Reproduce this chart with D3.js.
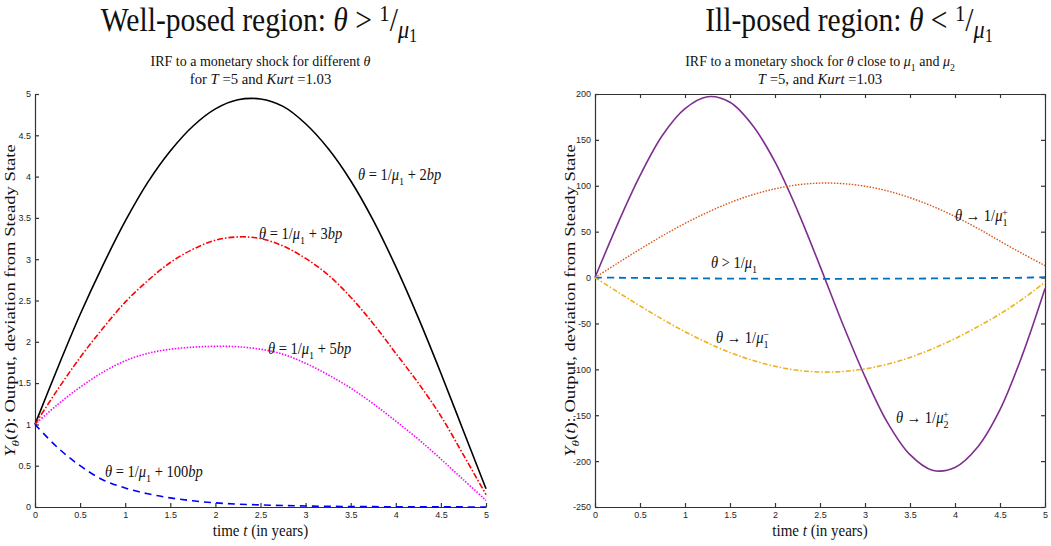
<!DOCTYPE html>
<html>
<head>
<meta charset="utf-8">
<script src="https://cdn.jsdelivr.net/npm/d3@7"></script>
<style>
  body { margin: 0; background: #fff; }
  text { font-family: "Liberation Serif", "DejaVu Serif", serif; fill: #111; }
  .tick text { font-family: "Liberation Sans", Arial, sans-serif; font-size: 9px; fill: #262626; }
  .axis path, .axis line { stroke: #333; }
</style>
</head>
<body>
<div id="container"></div>
<script>
/* DATA */
const tYears = [0, 0.25, 0.5, 0.75, 1, 1.25, 1.5, 1.75, 2, 2.25, 2.5, 2.75, 3, 3.25, 3.5, 3.75, 4, 4.25, 4.5, 4.75, 5];

// well-posed panel
const theta2bp   = [1.00, 1.68, 2.33, 2.92, 3.46, 3.93, 4.31, 4.61, 4.82, 4.93, 4.94, 4.85, 4.64, 4.34, 3.95, 3.47, 2.91, 2.29, 1.62, 0.92, 0.22];
const theta3bp   = [1.00, 1.42, 1.81, 2.16, 2.48, 2.74, 2.96, 3.12, 3.23, 3.27, 3.25, 3.16, 3.01, 2.81, 2.54, 2.22, 1.86, 1.50, 1.10, 0.63, 0.15];
const theta5bp   = [1.00, 1.24, 1.45, 1.63, 1.77, 1.86, 1.91, 1.935, 1.945, 1.94, 1.91, 1.85, 1.74, 1.60, 1.44, 1.25, 1.04, 0.82, 0.58, 0.33, 0.08];
const theta100bp = [1.00, 0.72, 0.50, 0.33, 0.23, 0.16, 0.11, 0.075, 0.05, 0.035, 0.025, 0.018, 0.012, 0.008, 0.006, 0.004, 0.003, 0.002, 0.001, 0.001, 0];

// ill-posed panel
const towardMu2Plus  = [0, 58, 111, 155, 184, 197, 191, 166, 126, 73, 12.5, -50, -108, -158, -193, -210, -207, -185, -144, -84, -12];
const towardMu1Plus  = [0, 15.6, 30.9, 45.5, 59.0, 71.1, 81.7, 90.2, 96.7, 101.0, 102.9, 102.4, 99.5, 94.4, 87.0, 77.7, 66.5, 53.7, 39.7, 26, 13];
const aboveMu1       = [0, -0.2, -0.4, -0.6, -0.8, -1.0, -1.1, -1.2, -1.3, -1.4, -1.4, -1.4, -1.3, -1.2, -1.1, -1.0, -0.8, -0.6, -0.4, -0.2, 0.5];
const towardMu1Minus = [0, -15.6, -30.9, -45.5, -59.0, -71.1, -81.7, -90.2, -96.7, -101.0, -102.9, -102.4, -99.5, -94.4, -87.0, -77.7, -66.5, -53.7, -39.7, -23.5, -5];

// ticks
const xTicks = [0, 0.5, 1, 1.5, 2, 2.5, 3, 3.5, 4, 4.5, 5];
const leftYTicks = [0, 0.5, 1, 1.5, 2, 2.5, 3, 3.5, 4, 4.5, 5];
const rightYTicks = [-250, -200, -150, -100, -50, 0, 50, 100, 150, 200];

/* CONSTANTS */
const width = 1051;
const height = 546;
const plotTop = 94, plotBottom = 507;

const svg = d3.select("#container")
  .append("svg")
  .attr("width", width)
  .attr("height", height);

svg.append("rect").attr("width", width).attr("height", height).attr("fill", "#fff");

// small helper: text made of styled pieces (italic, sub, sup)
// sx / sy stretch the whole label (the source figure is a bit squeezed)
function mathText(parent, x, y, parts, size, anchor, sx, sy) {
  const txt = parent.append("text")
    .attr("transform", `translate(${x},${y}) scale(${sx || 1},${sy || 1})`)
    .attr("font-size", size)
    .attr("text-anchor", anchor || "start");
  let shift = 0;
  parts.forEach(p => {
    const target = (p.s || 0) * size;
    const ts = txt.append("tspan")
      .attr("dy", target - shift)
      .attr("font-size", (p.k || 1) * size)
      .attr("font-style", p.i ? "italic" : "normal")
      .text(p.t);
    if (p.dx) ts.attr("dx", p.dx * size);
    shift = target;
  });
  return txt;
}

function drawPanel(opt) {
  const g = svg.append("g");
  const x = d3.scaleLinear().domain([0, 5]).range([opt.left, opt.right]);
  const y = d3.scaleLinear().domain(opt.yDomain).range([plotBottom, plotTop]);

  // axes, ticks pointing inward
  g.append("g").attr("class", "axis")
    .attr("transform", `translate(0,${plotBottom})`)
    .call(d3.axisBottom(x).tickValues(xTicks).tickFormat(d => String(d)).tickSizeInner(-4).tickSizeOuter(0).tickPadding(5));
  g.append("g").attr("class", "axis")
    .attr("transform", `translate(${opt.left},0)`)
    .call(d3.axisLeft(y).tickValues(opt.yTicks).tickFormat(d => String(d)).tickSizeInner(-4).tickSizeOuter(0).tickPadding(4));

  if (opt.box) {
    g.append("g").attr("class", "axis")
      .attr("transform", `translate(0,${plotTop})`)
      .call(d3.axisTop(x).tickValues(xTicks).tickFormat("").tickSizeInner(-4).tickSizeOuter(0));
    g.append("g").attr("class", "axis")
      .attr("transform", `translate(${opt.right},0)`)
      .call(d3.axisRight(y).tickValues(opt.yTicks).tickFormat("").tickSizeInner(-4).tickSizeOuter(0));
  }
  g.selectAll(".axis path, .axis line").attr("stroke-width", 1.2);

  const line = d3.line()
    .x((d, i) => x(tYears[i]))
    .y(d => y(d))
    .curve(d3.curveCatmullRom.alpha(0.5));

  opt.series.forEach(s => {
    g.append("path")
      .datum(s.values)
      .attr("d", line)
      .attr("fill", "none")
      .attr("stroke", s.color)
      .attr("stroke-width", s.w)
      .attr("stroke-dasharray", s.dash || null);
  });

  opt.labels.forEach(l => mathText(g, l.x, l.y, l.parts, 14.5, "start", 1, 1.08));

  // axis titles
  const cx = (opt.left + opt.right) / 2;
  mathText(g, cx, 536, [{ t: "time " }, { t: "t", i: 1 }, { t: " (in years)" }], 15, "middle", 1, 1.1);

  const yl = g.append("g").attr("transform", `translate(${opt.left - 20},${(plotTop + plotBottom) / 2}) rotate(-90)`);
  mathText(yl, 0, 0, [
    { t: "Y", i: 1 }, { t: "θ", i: 1, s: 0.25, k: 0.7 }, { t: "(" }, { t: "t", i: 1 },
    { t: "): Output, deviation from Steady State" }
  ], 14, "middle", 1.33, 1);

  // titles
  mathText(g, opt.titleX, 31, opt.title, 29, "middle", 1.02, 1.15);
  mathText(g, cx, 66, opt.sub1, 14, "middle", 1, 1.08);
  mathText(g, cx, 84, opt.sub2, 14, "middle", 1.05, 1.08);
}

const mu1 = [{ t: "μ", i: 1 }, { t: "1", s: 0.3, k: 0.7 }];

/* LEFT: WELL-POSED */
drawPanel({
  left: 35, right: 486,
  yDomain: [0, 5], yTicks: leftYTicks, box: false,
  series: [
    { values: theta2bp, color: "#000000", w: 1.6 },
    { values: theta3bp, color: "#ff0000", w: 1.6, dash: "6,2,1.5,2" },
    { values: theta5bp, color: "#ff00ff", w: 1.6, dash: "1.5,1.5" },
    { values: theta100bp, color: "#0000ff", w: 1.6, dash: "7,5" }
  ],
  labels: [
    { x: 358, y: 180, parts: [{ t: "θ", i: 1 }, { t: " = 1/" }, ...mu1, { t: " + 2", s: 0 }, { t: "bp", i: 1 }] },
    { x: 259, y: 239, parts: [{ t: "θ", i: 1 }, { t: " = 1/" }, ...mu1, { t: " + 3", s: 0 }, { t: "bp", i: 1 }] },
    { x: 268, y: 354, parts: [{ t: "θ", i: 1 }, { t: " = 1/" }, ...mu1, { t: " + 5", s: 0 }, { t: "bp", i: 1 }] },
    { x: 105, y: 477, parts: [{ t: "θ", i: 1 }, { t: " = 1/" }, ...mu1, { t: " + 100", s: 0 }, { t: "bp", i: 1 }] }
  ],
  titleX: 259,
  title: [{ t: "Well-posed region: " }, { t: "θ", i: 1 }, { t: " > " }, { t: "1", s: -0.3, k: 0.7 }, { t: "/", s: 0 },
          { t: "μ", i: 1, s: 0.2, k: 0.75 }, { t: "1", s: 0.32, k: 0.55 }],
  sub1: [{ t: "IRF to a monetary shock for different " }, { t: "θ", i: 1 }],
  sub2: [{ t: "for " }, { t: "T", i: 1 }, { t: " =5 and " }, { t: "Kurt", i: 1 }, { t: " =1.03" }]
});

/* RIGHT: ILL-POSED */
drawPanel({
  left: 595, right: 1045,
  yDomain: [-250, 200], yTicks: rightYTicks, box: true,
  series: [
    { values: towardMu2Plus, color: "#7e2f8e", w: 1.6 },
    { values: towardMu1Plus, color: "#d95319", w: 1.4, dash: "1.5,1.5" },
    { values: aboveMu1, color: "#0072bd", w: 1.8, dash: "7,5" },
    { values: towardMu1Minus, color: "#edb120", w: 1.6, dash: "5,2,1.5,2" }
  ],
  labels: [
    { x: 955, y: 221, parts: [{ t: "θ", i: 1 }, { t: " → 1/" }, { t: "μ", i: 1 }, { t: "1", s: 0.3, k: 0.7 }, { t: "+", s: -0.35, k: 0.7, dx: -0.38 }] },
    { x: 711, y: 268, parts: [{ t: "θ", i: 1 }, { t: " > 1/" }, ...mu1] },
    { x: 716, y: 343, parts: [{ t: "θ", i: 1 }, { t: " → 1/" }, { t: "μ", i: 1 }, { t: "1", s: 0.3, k: 0.7 }, { t: "−", s: -0.35, k: 0.7, dx: -0.38 }] },
    { x: 896, y: 423, parts: [{ t: "θ", i: 1 }, { t: " → 1/" }, { t: "μ", i: 1 }, { t: "2", s: 0.3, k: 0.7 }, { t: "+", s: -0.35, k: 0.7, dx: -0.38 }] }
  ],
  titleX: 849,
  title: [{ t: "Ill-posed region: " }, { t: "θ", i: 1 }, { t: " < " }, { t: "1", s: -0.3, k: 0.7 }, { t: "/", s: 0 },
          { t: "μ", i: 1, s: 0.2, k: 0.75 }, { t: "1", s: 0.32, k: 0.55 }],
  sub1: [{ t: "IRF to a monetary shock for " }, { t: "θ", i: 1 }, { t: " close to " }, ...mu1, { t: " and ", s: 0 },
         { t: "μ", i: 1 }, { t: "2", s: 0.3, k: 0.7 }],
  sub2: [{ t: "T", i: 1 }, { t: " =5, and " }, { t: "Kurt", i: 1 }, { t: " =1.03" }]
});
</script>
</body>
</html>
